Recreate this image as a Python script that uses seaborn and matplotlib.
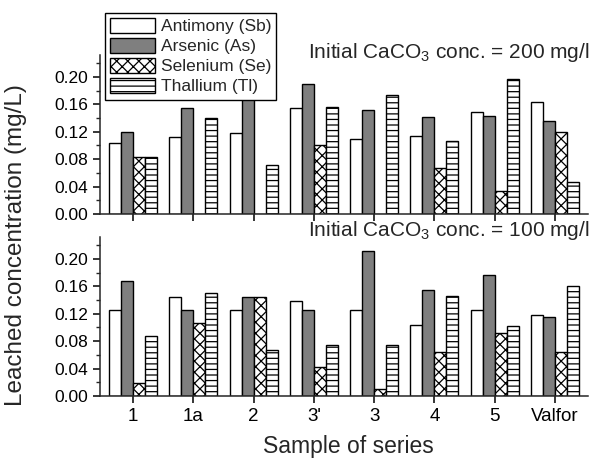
import matplotlib
matplotlib.use("Agg")
import pandas as pd
import matplotlib.pyplot as plt
import seaborn as sns
from matplotlib.patches import Patch
from matplotlib.ticker import MultipleLocator, FormatStrFormatter

samples = ["1", "1a", "2", "3'", "3", "4", "5", "Valfor"]
elements = ["Antimony (Sb)", "Arsenic (As)", "Selenium (Se)", "Thallium (Tl)"]

# Initial CaCO3 conc. = 200 mg/l
sb_200 = [0.104, 0.112, 0.118, 0.155, 0.109, 0.114, 0.149, 0.163]
as_200 = [0.120, 0.155, 0.185, 0.190, 0.152, 0.142, 0.143, 0.136]
se_200 = [0.083, 0.000, 0.000, 0.100, 0.000, 0.067, 0.034, 0.120]
tl_200 = [0.083, 0.140, 0.072, 0.156, 0.174, 0.107, 0.197, 0.047]

# Initial CaCO3 conc. = 100 mg/l
sb_100 = [0.126, 0.144, 0.126, 0.138, 0.125, 0.104, 0.126, 0.118]
as_100 = [0.168, 0.125, 0.144, 0.126, 0.212, 0.154, 0.176, 0.115]
se_100 = [0.019, 0.106, 0.144, 0.042, 0.010, 0.064, 0.092, 0.064]
tl_100 = [0.088, 0.151, 0.067, 0.074, 0.074, 0.146, 0.102, 0.160]

colors = ["white", "#7f7f7f", "white", "white"]
hatches = [None, None, "xxx", "---"]


def long_df(series):
    rows = []
    for el, vals in zip(elements, series):
        for s, v in zip(samples, vals):
            rows.append({"sample": s, "element": el, "value": v})
    return pd.DataFrame(rows)


df200 = long_df([sb_200, as_200, se_200, tl_200])
df100 = long_df([sb_100, as_100, se_100, tl_100])

sns.set_style("ticks")
plt.rcParams["font.family"] = ["Liberation Sans", "DejaVu Sans"]
plt.rcParams["mathtext.default"] = "regular"
plt.rcParams["hatch.linewidth"] = 0.9
plt.rcParams["axes.linewidth"] = 1.1

fig = plt.figure(figsize=(5.91, 4.58), dpi=100)
ax1 = fig.add_axes([100 / 591, 1 - 214 / 458, 488 / 591, 159 / 458])
ax2 = fig.add_axes([100 / 591, 1 - 396 / 458, 488 / 591, 159 / 458])

for ax, d in [(ax1, df200), (ax2, df100)]:
    sns.barplot(data=d, x="sample", y="value", hue="element", order=samples,
                hue_order=elements, palette=colors, saturation=1, width=0.8,
                edgecolor="black", linewidth=1.0, errorbar=None, legend=False, ax=ax)
    for cont, h in zip(ax.containers, hatches):
        for bar in cont:
            if h:
                bar.set_hatch(h)
    ax.set_xlim(-0.55, 7.55)
    ax.set_ylim(0, 0.232)
    ax.yaxis.set_major_locator(MultipleLocator(0.04))
    ax.yaxis.set_minor_locator(MultipleLocator(0.02))
    ax.yaxis.set_major_formatter(FormatStrFormatter("%.2f"))
    ax.tick_params(axis="both", which="major", direction="out", length=5, width=1.1,
                   labelsize=12.5, colors="black")
    ax.tick_params(axis="x", labelsize=13.5)
    ax.tick_params(axis="y", which="minor", direction="out", length=3, width=1.0)
    ax.set_xlabel("")
    ax.set_ylabel("")
    sns.despine(ax=ax)

ax1.tick_params(labelbottom=False)

fig.text(308 / 591, 1 - 58 / 458, "Initial CaCO$_3$ conc. = 200 mg/l", fontsize=15, va="baseline")
fig.text(308 / 591, 1 - 236 / 458, "Initial CaCO$_3$ conc. = 100 mg/l", fontsize=15, va="baseline")
fig.text(0.027, 0.465, "Leached concentration (mg/L)", rotation=90, fontsize=17.5,
         ha="center", va="center")
fig.text(0.59, 0.012, "Sample of series", fontsize=16.5, ha="center", va="baseline")

handles = [Patch(facecolor=c, edgecolor="black", hatch=h, linewidth=1.0)
           for c, h in zip(colors, hatches)]
leg = fig.legend(handles, elements, loc="upper left",
                 bbox_to_anchor=(105 / 591, 1 - 13 / 458), borderaxespad=0,
                 fontsize=12.5, frameon=True, fancybox=False, framealpha=1,
                 edgecolor="black", handlelength=2.6, handleheight=0.9,
                 handletextpad=0.3, labelspacing=0.22, borderpad=0.3)
leg.get_frame().set_linewidth(1.0)

fig.savefig("out.png", dpi=100)
